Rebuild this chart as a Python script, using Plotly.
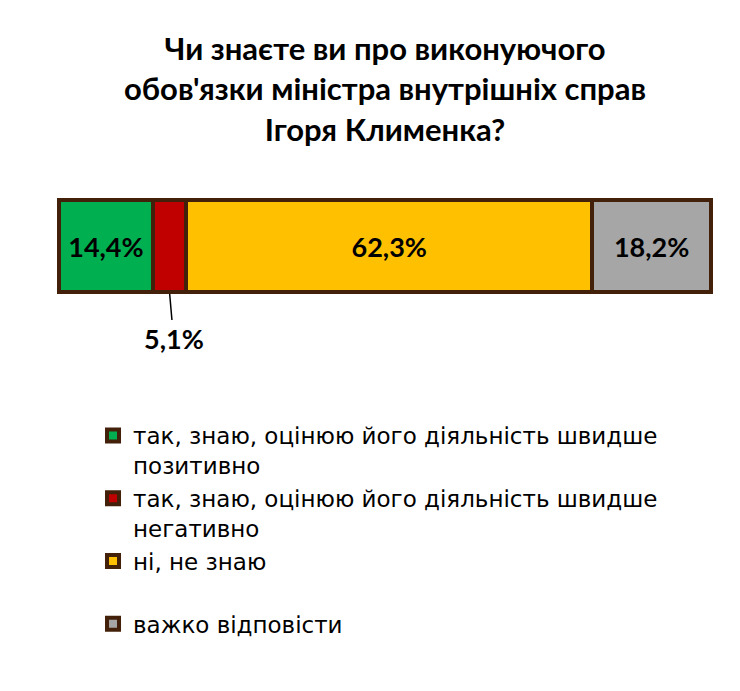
import plotly.graph_objects as go

categories = ["так, знаю, оцінюю його діяльність швидше<br>позитивно",
              "так, знаю, оцінюю його діяльність швидше<br>негативно",
              "ні, не знаю<br> ",
              "важко відповісти"]
values = [14.4, 5.1, 62.3, 18.2]
colors = ["#00b050", "#c00000", "#ffc000", "#a6a6a6"]
border = "#43200a"
title_text = "Чи знаєте ви про виконуючого<br>обов'язки міністра внутрішніх справ<br>Ігоря Клименка?"

def fmt(v):
    return f"{v:.1f}".replace(".", ",") + "%"

label_font = dict(family="Lato", size=27, color="black", weight="bold")

fig = go.Figure()
for i, (cat, v, c) in enumerate(zip(categories, values, colors)):
    label = fmt(v) if v >= 10 else ""
    fig.add_trace(go.Bar(
        y=[0], x=[v], name=cat, orientation="h", width=1,
        marker=dict(color=c, line=dict(color=border, width=4)),
        text=[label], textposition="inside", insidetextanchor="middle",
        textfont=label_font, hoverinfo="skip",
    ))

# small segment label outside with leader line
small_idx = 1
cx = sum(values[:small_idx]) + values[small_idx] / 2
fig.add_annotation(x=cx, y=-0.5, xref="x", yref="y", text=fmt(values[small_idx]),
                   showarrow=True, arrowhead=0, arrowwidth=1.5, arrowcolor="black",
                   ax=4, ay=46, standoff=2, font=label_font)

fig.update_layout(
    barmode="stack",
    width=740, height=691,
    margin=dict(l=47, r=33, t=188, b=403),
    plot_bgcolor="white", paper_bgcolor="white",
    xaxis=dict(range=[-0.613, 100.613], visible=False, fixedrange=True),
    yaxis=dict(range=[-0.5435, 0.5435], visible=False, fixedrange=True),
    title=dict(text=title_text, x=0.5, xref="paper", xanchor="center",
               y=1 - 52 / 691, yref="container", yanchor="top",
               font=dict(family="Lato", size=31, color="black", weight="bold")),
    showlegend=True,
    legend=dict(orientation="v", x=0.0576, xanchor="left", y=-1.18, yanchor="top",
                valign="top", traceorder="normal",
                font=dict(family="DejaVu Sans", size=23, color="black"),
                bgcolor="rgba(0,0,0,0)"),
)

fig.write_html("out.html")
